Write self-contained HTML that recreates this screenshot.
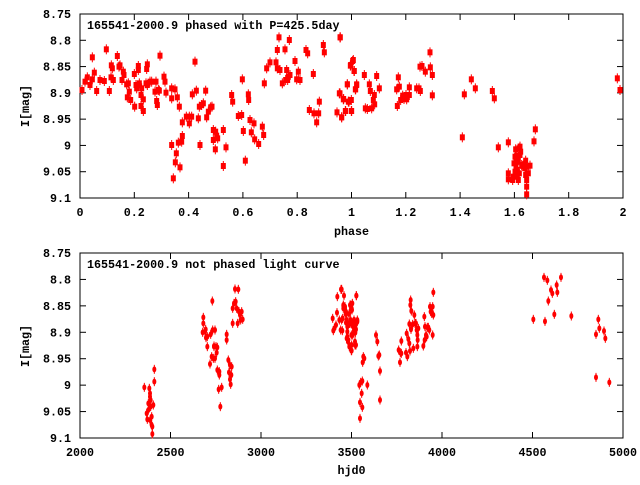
<!DOCTYPE html>
<html><head><meta charset="utf-8"><style>
html,body{margin:0;padding:0;background:#fff;}
svg text{font-family:"Liberation Mono",monospace;font-weight:bold;font-size:11.7px;fill:#000;}
</style></head><body>
<svg id="s" width="640" height="480" xmlns="http://www.w3.org/2000/svg"></svg>
<script>
const s=document.getElementById('s');let h='';
function axes(x0,x1,y0,y1,xt,yt,xl,yl,title,xlab,xlabY,ylabY){
 h+=`<rect x="${x0}" y="${y0}" width="${x1-x0}" height="${y1-y0}" fill="none" stroke="#000" stroke-width="1"/>`;
 xt.forEach((t,i)=>{const x=x0+(x1-x0)*i/(xt.length-1);
  h+=`<line x1="${x}" y1="${y1}" x2="${x}" y2="${y1-6}" stroke="#000"/><line x1="${x}" y1="${y0}" x2="${x}" y2="${y0+6}" stroke="#000"/>`;
  h+=`<text x="${x}" y="${y1+18}" text-anchor="middle">${t}</text>`;});
 yt.forEach((t,i)=>{const y=y0+(y1-y0)*i/(yt.length-1);
  h+=`<line x1="${x0}" y1="${y}" x2="${x0+6}" y2="${y}" stroke="#000"/><line x1="${x1}" y1="${y}" x2="${x1-6}" y2="${y}" stroke="#000"/>`;
  h+=`<text x="${x0-9}" y="${y+4}" text-anchor="end">${t}</text>`;});
 h+=`<text x="87" y="${y0+15}">${title}</text>`;
 h+=`<text x="${(x0+x1)/2}" y="${xlabY}" text-anchor="middle">${xlab}</text>`;
 h+=`<text transform="translate(29,${ylabY}) rotate(-90)" text-anchor="middle">I[mag]</text>`;
}
const yt=['8.75','8.8','8.85','8.9','8.95','9','9.05','9.1'];
axes(80,623,14,198,['0','0.2','0.4','0.6','0.8','1','1.2','1.4','1.6','1.8','2'],yt,0,0,'165541-2000.9 phased with P=425.5day','phase',235,106);
axes(80,623,253,438,['2000','2500','3000','3500','4000','4500','5000'],yt,0,0,'165541-2000.9 not phased light curve','hjd0',474,346);
const A=[[66,270],[75,245],[82,232],[90,255],[97,238],[97,172],[103,218],[110,273],[120,240],[133,243],[139,148],[148,273],[153,232],[154,196],[157,205],[160,240],[172,168],[177,200],[180,196],[186,240],[190,215],[192,225],[200,253],[202,292],[205,250],[208,275],[212,300],[223,222],[224,320],[228,255],[230,265],[235,198],[235,210],[238,250],[243,285],[245,265],[243,318],[250,298],[250,333],[258,250],[260,207],[262,193],[262,255],[270,245],[275,245],[285,275],[288,245],[290,303],[292,315],[295,270],[298,272],[300,167],[312,230],[315,245],[318,278],[335,265],[335,295],[345,268],[352,292],[358,320],[335,435],[340,535],[346,487],[349,460],[355,428],[360,502],[365,425],[367,408],[367,367],[379,350],[388,370],[388,350],[395,350],[397,283],[405,185],[409,272],[415,355],[418,320],[420,435],[425,315],[430,310],[437,272],[440,352],[445,335],[452,322],[456,320],[460,390],[460,420],[466,448],[467,395],[470,407],[473,415],[490,390],[490,498],[498,442],[515,285],[518,305],[535,348],[545,345],[547,238],[550,393],[556,482],[565,283],[566,300],[570,360],[574,397],[582,370],[584,418],[596,432],[607,380],[611,405],[613,250],[620,205],[630,187],[648,187],[652,150],[652,205],[657,112],[660,210],[667,250],[675,148],[677,240],[680,210],[683,240],[685,230],[688,120],[690,225],[705,183],[710,238],[715,215],[720,240],[738,150],[743,160],[748,330],[760,222],[762,340],[770,367],[776,340],[778,305],[790,135],[793,157],[831,337],[838,280],[841,112],[845,352],[851,297],[857,333],[862,253],[865,305],[872,195],[875,333],[878,183],[882,213],[886,268],[890,255]];
const B=[[0,112],[0,280],[5,352],[10,298],[16,333],[22,253],[27,305],[31,197],[34,300],[34,333],[40,180],[43,213],[47,268],[50,253],[73,225],[76,325],[82,327],[88,253],[91,273],[95,325],[100,300],[103,285],[104,313],[110,228],[118,265],[170,268],[172,318],[175,232],[178,260],[182,300],[188,287],[192,297],[198,285],[200,298],[208,262],[208,285],[230,265],[237,265],[240,200],[241,273],[246,198],[256,215],[270,157],[271,202],[277,225],[277,286],[367,412],[373,283],[394,238],[406,265],[457,273],[463,295],[475,442],[505,427],[505,520],[505,538],[518,540],[522,490],[527,448],[530,468],[532,510],[535,540],[537,445],[540,465],[545,495],[550,497],[557,482],[557,525],[560,540],[560,560],[560,583],[565,520],[570,497],[582,424],[586,388],[832,235],[840,270],[525,470],[528,500],[530,530],[535,480],[538,520],[540,440],[542,455],[532,485],[555,505],[560,500],[525,515],[520,530],[548,498]];
const C=[[253,442],[260,520],[262,538],[265,490],[268,445],[270,460],[270,470],[272,480],[272,500],[275,530],[275,555],[277,560],[277,582],[280,495],[283,388],[283,425],[265,510],[270,540],[430,232],[430,250],[428,277],[435,275],[437,268],[438,293],[442,290],[442,320],[450,372],[452,283],[455,350],[457,183],[458,270],[460,355],[462,318],[462,320],[465,270],[465,355],[468,320],[470,338],[472,322],[472,390],[476,448],[478,395],[478,405],[481,500],[485,442],[500,283],[500,300],[505,360],[507,397],[510,375],[510,418],[512,433],[514,405],[515,380],[518,250],[518,205],[522,190],[525,147],[527,185],[530,205],[535,148],[533,250],[537,215],[542,240],[545,215],[548,238],[540,225],[818,235],[820,272],[823,265],[828,255],[831,218],[832,170],[838,240],[842,270],[845,148],[848,235],[850,198],[850,205],[855,200],[857,222],[858,248],[860,240],[862,260],[862,290],[865,300],[868,250],[870,320],[872,195],[874,332],[875,205],[876,210],[878,285],[880,245],[882,272],[884,260],[886,278],[888,315],[889,167],[890,248],[892,240]];
const D=[[3,148],[5,240],[7,272],[10,195],[12,167],[15,205],[18,215],[20,240],[20,295],[22,275],[24,305],[27,222],[28,320],[30,195],[30,250],[32,240],[33,207],[34,285],[35,332],[35,315],[37,190],[38,258],[40,260],[42,240],[45,245],[45,305],[45,315],[48,268],[49,167],[52,245],[58,435],[60,487],[60,535],[62,427],[65,460],[67,502],[67,423],[68,367],[70,350],[73,355],[82,435],[108,285],[112,305],[115,348],[118,345],[120,393],[120,480],[176,330],[180,367],[181,338],[184,340],[184,303],[198,338],[200,280],[202,350],[205,297],[208,310],[208,252],[210,333],[211,195],[212,180],[213,268],[214,213],[218,253],[220,325],[223,225],[225,250],[228,250],[230,270],[232,320],[232,285],[233,300],[235,265],[250,318],[253,230],[254,300],[255,260],[258,285],[260,290],[262,262],[265,262],[268,270],[270,200],[272,215],[275,220],[278,200],[278,285],[280,157],[280,225],[580,238],[612,112],[615,244],[622,121],[625,183],[633,150],[637,160],[643,223],[650,135],[652,157],[663,112],[694,228],[768,283],[768,412],[775,238],[778,265],[792,273],[796,295],[808,427]];
function sq(x,y){h+=`<line x1="${x}" y1="${y-5}" x2="${x}" y2="${y+5}" stroke="#f00"/><rect x="${x-2.5}" y="${y-3}" width="5" height="6" fill="#f00"/>`;}
function el(x,y){h+=`<line x1="${x}" y1="${y-4.5}" x2="${x}" y2="${y+4.5}" stroke="#f00"/><ellipse cx="${x}" cy="${y}" rx="2" ry="3" fill="#f00"/>`;}
A.forEach(p=>sq(60+p[0]/3,p[1]/3));
B.forEach(p=>sq(340+p[0]/3,p[1]/3));
C.forEach(p=>el(60+p[0]/3,240+p[1]/3));
D.forEach(p=>el(340+p[0]/3,240+p[1]/3));
s.innerHTML=h;
</script>
</body></html>
